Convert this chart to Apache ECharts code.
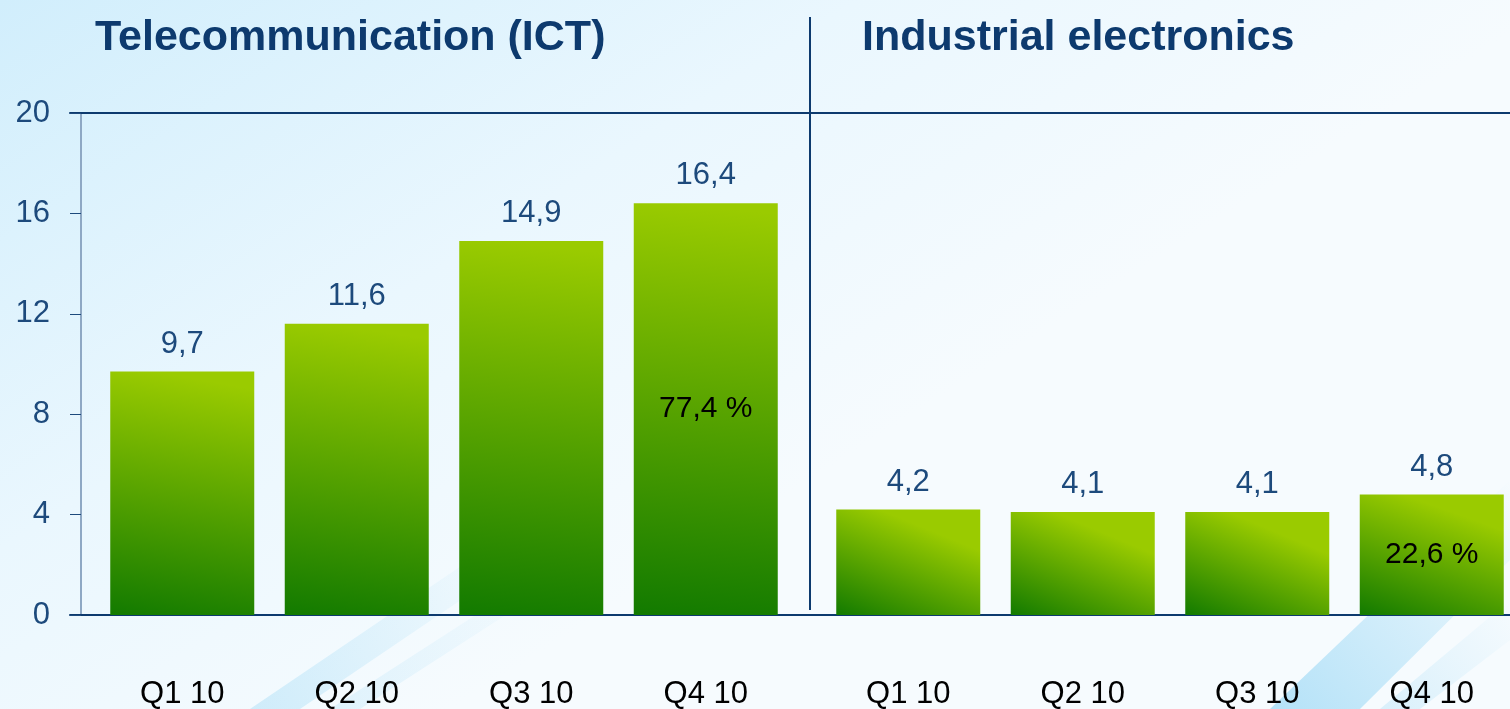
<!DOCTYPE html>
<html>
<head>
<meta charset="utf-8">
<script src="https://cdn.jsdelivr.net/npm/echarts@6/dist/echarts.min.js"></script>
<style>
html, body { margin: 0; padding: 0; }
#chart { width: 1510px; height: 709px; }
</style>
</head>
<body>
<div id="chart"></div>
<script>
var quarters = ['Q1 10', 'Q2 10', 'Q3 10', 'Q4 10'];
var ictValues = [9.7, 11.6, 14.9, 16.4];
var ieValues = [4.2, 4.1, 4.1, 4.8];
var ictShare = ['', '', '', '77,4 %'];
var ieShare = ['', '', '', '22,6 %'];
var yTicks = [0, 4, 8, 12, 16, 20];

var myChart = echarts.init(document.getElementById('chart'));
var fontName = 'Liberation Sans, Arial, sans-serif';

function barColor() {
    return new echarts.graphic.LinearGradient(0.3, 0, 0, 1, [
        {offset: 0, color: '#9acb00'},
        {offset: 1, color: '#127a00'}
    ]);
}

function valueLabel(p) {
    return String(p.value).replace('.', ',');
}

function barSeries(idx, values, shares) {
    return [
        {
            type: 'bar',
            xAxisIndex: idx,
            yAxisIndex: idx,
            data: values,
            barWidth: 144,
            itemStyle: {color: barColor()},
            label: {
                show: true,
                position: 'top',
                distance: 12,
                formatter: valueLabel,
                color: '#1d4a7c',
                fontFamily: fontName,
                fontSize: 31
            },
            silent: true
        },
        {
            type: 'bar',
            xAxisIndex: idx,
            yAxisIndex: idx,
            data: values,
            barWidth: 144,
            barGap: '-100%',
            itemStyle: {color: 'rgba(0,0,0,0)'},
            label: {
                show: true,
                position: 'inside',
                formatter: function (p) { return shares[p.dataIndex]; },
                color: '#000',
                fontFamily: fontName,
                fontSize: 30
            },
            silent: true
        }
    ];
}

var catAxis = function (gridIndex) {
    return {
        type: 'category',
        gridIndex: gridIndex,
        data: quarters,
        axisLine: {show: false},
        axisTick: {show: false},
        axisLabel: {
            margin: 64,
            color: '#000',
            fontFamily: fontName,
            fontSize: 31
        }
    };
};

var hiddenValueAxis = function (gridIndex) {
    return {type: 'value', gridIndex: gridIndex, min: 0, max: 20, show: false};
};

// light diagonal streaks of the slide background
function streak(points, alpha) {
    return {
        type: 'polygon',
        z: -10,
        silent: true,
        shape: {points: points},
        style: {
            fill: new echarts.graphic.LinearGradient(0, 1, 1, 0, [
                {offset: 0, color: 'rgba(100,195,240,' + alpha + ')'},
                {offset: 1, color: 'rgba(100,195,240,0)'}
            ])
        }
    };
}

var option = {
    backgroundColor: new echarts.graphic.LinearGradient(0, 0, 0.3, 1, [
        {offset: 0, color: '#d1eefc'},
        {offset: 0.55, color: '#eaf7fe'},
        {offset: 1, color: '#f6fbfe'}
    ]),
    animation: false,
    title: [
        {
            text: 'Telecommunication (ICT)',
            left: 90, top: 12,
            textStyle: {color: '#0d3a6e', fontSize: 43, fontWeight: 'bold', fontFamily: fontName}
        },
        {
            text: 'Industrial electronics',
            left: 857, top: 12,
            textStyle: {color: '#0d3a6e', fontSize: 43, fontWeight: 'bold', fontFamily: fontName}
        }
    ],
    grid: [
        {left: 70, right: 0, top: 113, bottom: 94, outerBoundsMode: 'none'},
        {left: 95, width: 698, top: 113, bottom: 94, outerBoundsMode: 'none'},
        {left: 821, width: 698, top: 113, bottom: 94, outerBoundsMode: 'none'}
    ],
    xAxis: [
        {
            type: 'value', gridIndex: 0, position: 'bottom',
            axisLine: {show: true, onZero: false, lineStyle: {color: '#0d3a6e', width: 2}},
            axisTick: {show: false}, axisLabel: {show: false}, splitLine: {show: false}
        },
        catAxis(1),
        catAxis(2),
        {
            type: 'value', gridIndex: 0, position: 'top',
            axisLine: {show: true, onZero: false, lineStyle: {color: '#0d3a6e', width: 2}},
            axisTick: {show: false}, axisLabel: {show: false}, splitLine: {show: false}
        }
    ],
    yAxis: [
        {
            type: 'value', gridIndex: 0, min: yTicks[0], max: yTicks[yTicks.length - 1], interval: 4,
            offset: -11,
            axisLine: {show: true, lineStyle: {color: '#8ea8c4', width: 2}},
            axisTick: {show: true, length: 11, lineStyle: {color: '#1d4a7c', width: 1}},
            axisLabel: {margin: 31, color: '#1d4a7c', fontSize: 31, fontFamily: fontName},
            splitLine: {show: false}
        },
        hiddenValueAxis(1),
        hiddenValueAxis(2)
    ],
    graphic: [
        streak([[250, 709], [300, 709], [520, 560], [470, 560]], 0.25),
        streak([[330, 709], [360, 709], [560, 580], [530, 580]], 0.15),
        streak([[1270, 709], [1360, 709], [1510, 560], [1510, 480]], 0.45),
        streak([[1380, 709], [1420, 709], [1510, 640], [1510, 600]], 0.2),
        {
            type: 'line',
            shape: {x1: 810, y1: 17, x2: 810, y2: 610},
            style: {stroke: '#0d3a6e', lineWidth: 2},
            silent: true
        }
    ],
    series: [].concat(barSeries(1, ictValues, ictShare), barSeries(2, ieValues, ieShare))
};

myChart.setOption(option);
</script>
</body>
</html>
